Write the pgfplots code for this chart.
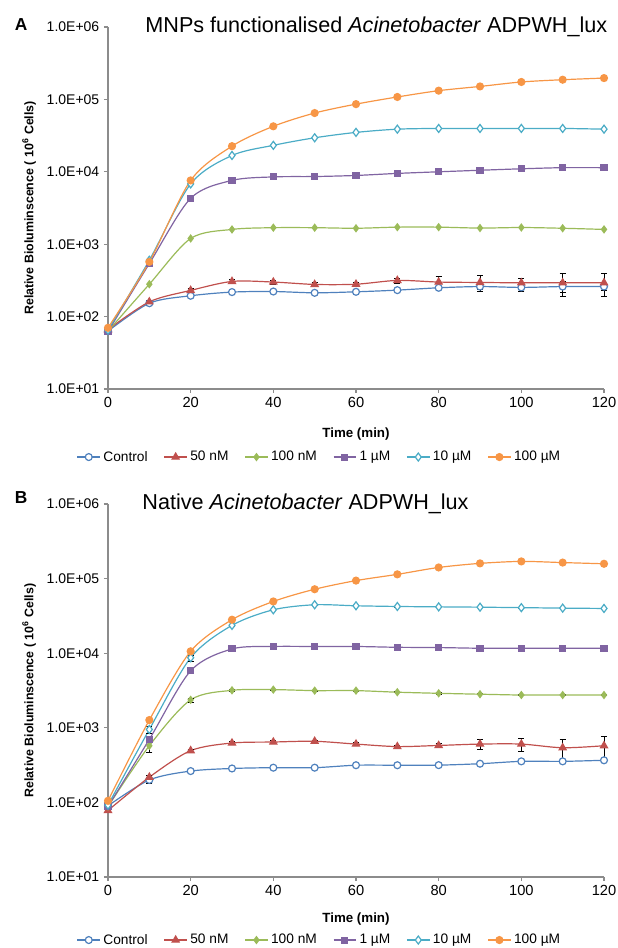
\documentclass[border=0pt]{standalone}
\usepackage{pgfplots}
\pgfplotsset{compat=1.18}
\usepackage{fontspec}
\setmainfont{Liberation Sans}

\definecolor{cBlue}{HTML}{4F81BD}
\definecolor{cRed}{HTML}{C0504D}
\definecolor{cGreen}{HTML}{9BBB59}
\definecolor{cPurple}{HTML}{8064A2}
\definecolor{cCyan}{HTML}{4BACC6}
\definecolor{cOrange}{HTML}{F79646}
\definecolor{axgray}{HTML}{8C8C8C}

\pgfplotsset{
  error bars/error bar style={black, line width=0.45pt},
  error bars/error mark options={black, rotate=90, mark size=2.2pt, line width=0.45pt},
}

\begin{document}
\begin{tikzpicture}
\path[use as bounding box] (-81pt,-419.25pt) rectangle (381.75pt,291.75pt);

% ---- panel A
\begin{axis}[
  scale only axis, width=372pt, height=271.5pt,
  xmin=0, xmax=120, ymode=log, ymin=10, ymax=1e6,
  xtick={0,20,...,120},
  ytick={1e1,1e2,1e3,1e4,1e5,1e6},
  yticklabels={1.0E+01,1.0E+02,1.0E+03,1.0E+04,1.0E+05,1.0E+06},
  yminorticks=false,
  axis x line*=bottom, axis y line*=left,
  axis line style={draw=axgray, line width=0.8pt, -},
  tick align=outside, major tick length=3pt,
  major tick style={draw=axgray, line width=0.8pt},
  /pgf/number format/assume math mode=true,
  xticklabel style={font=\fontsize{11}{13}\selectfont},
  yticklabel style={font=\fontsize{10.5}{12}\selectfont},
  xlabel={Time (min)},
  xlabel style={font=\bfseries\fontsize{10}{12}\selectfont, anchor=center,
    at={(axis description cs:0.5,-0.124)}},
  ylabel={Relative Bioluminscence ( 10\textsuperscript{6} Cells)},
  ylabel style={font=\bfseries\fontsize{9.3}{11}\selectfont, anchor=center,
    at={(axis description cs:-0.159,0.5)}},
  legend columns=6,
  legend style={draw=none, fill=none, anchor=center,
    at={(axis description cs:0.427,-0.188)},
    font=\fontsize{10.3}{12}\selectfont,
    /tikz/every even column/.append style={column sep=10pt}},
  clip=false,
  every axis plot/.append style={line width=0.9pt, smooth},
]
\addplot[color=cBlue, mark=*, mark size=2.6pt, mark options={fill=white, solid},
  error bars/.cd, y dir=both, y explicit] coordinates {
  (0,63) +- (0,5) (10,153) +- (0,8) (20,194) +- (0,10) (30,218) +- (0,10)
  (40,222) +- (0,10) (50,213) +- (0,10) (60,220) +- (0,10) (70,232) +- (0,10)
  (80,250) +- (0,15) (90,260) +- (0,22) (100,253) +- (0,30) (110,260) +- (0,45)
  (120,260) +- (0,30)};
\addplot[color=cRed, mark=triangle*, mark size=3pt, mark options={solid},
  error bars/.cd, y dir=both, y explicit] coordinates {
  (0,66) +- (0,5) (10,160) +- (0,10) (20,230) +- (0,15) (30,306) +- (0,20)
  (40,300) +- (0,20) (50,278) +- (0,15) (60,280) +- (0,15) (70,316) +- (0,25)
  (80,300) +- (0,63) (90,296) +- (0,75) (100,293) +- (0,47) (110,293) +- (0,100)
  (120,293) +- (0,100)};
\addplot[color=cGreen, mark=diamond*, mark size=2.5pt, mark options={solid}] coordinates {
  (0,63) (10,280) (20,1200) (30,1600) (40,1690) (50,1690) (60,1660)
  (70,1720) (80,1720) (90,1670) (100,1700) (110,1660) (120,1600)};
\addplot[color=cPurple, mark=square*, mark size=2.2pt, mark options={solid}] coordinates {
  (0,62) (10,540) (20,4300) (30,7600) (40,8500) (50,8600) (60,8900)
  (70,9500) (80,10000) (90,10500) (100,11000) (110,11400) (120,11400)};
\addplot[color=cCyan, mark=diamond*, mark size=3pt, mark options={fill=white, solid}] coordinates {
  (0,65) (10,600) (20,6800) (30,16800) (40,23200) (50,29500) (60,35000)
  (70,38800) (80,39700) (90,39700) (100,39700) (110,39700) (120,38800)};
\addplot[color=cOrange, mark=*, mark size=2.6pt, mark options={solid}] coordinates {
  (0,70) (10,570) (20,7600) (30,22600) (40,42500) (50,64800) (60,86000)
  (70,108000) (80,132000) (90,151000) (100,174000) (110,187000) (120,197000)};
\legend{Control, 50 nM, 100 nM, 1 µM, 10 µM, 100 µM}
\node[anchor=west, font=\fontsize{16.2}{19}\selectfont] at (axis description cs:0.066,1)
  {MNPs functionalised \textit{Acinetobacter} ADPWH\_lux};
\node[font=\bfseries\fontsize{13}{15}\selectfont] at (axis description cs:-0.175,1.008) {A};
\end{axis}

% ---- panel B
\begin{axis}[
  at={(0pt,-366pt)},
  scale only axis, width=372pt, height=279.75pt,
  xmin=0, xmax=120, ymode=log, ymin=10, ymax=1e6,
  xtick={0,20,...,120},
  ytick={1e1,1e2,1e3,1e4,1e5,1e6},
  yticklabels={1.0E+01,1.0E+02,1.0E+03,1.0E+04,1.0E+05,1.0E+06},
  yminorticks=false,
  axis x line*=bottom, axis y line*=left,
  axis line style={draw=axgray, line width=0.8pt, -},
  tick align=outside, major tick length=3pt,
  major tick style={draw=axgray, line width=0.8pt},
  /pgf/number format/assume math mode=true,
  xticklabel style={font=\fontsize{11}{13}\selectfont},
  yticklabel style={font=\fontsize{10.5}{12}\selectfont},
  xlabel={Time (min)},
  xlabel style={font=\bfseries\fontsize{10}{12}\selectfont, anchor=center,
    at={(axis description cs:0.5,-0.113)}},
  ylabel={Relative Bioluminscence ( 10\textsuperscript{6} Cells)},
  ylabel style={font=\bfseries\fontsize{9.3}{11}\selectfont, anchor=center,
    at={(axis description cs:-0.159,0.5)}},
  legend columns=6,
  legend style={draw=none, fill=none, anchor=center,
    at={(axis description cs:0.427,-0.169)},
    font=\fontsize{10.3}{12}\selectfont,
    /tikz/every even column/.append style={column sep=10pt}},
  clip=false,
  every axis plot/.append style={line width=0.9pt, smooth},
]
\addplot[color=cBlue, mark=*, mark size=2.6pt, mark options={fill=white, solid},
  error bars/.cd, y dir=both, y explicit] coordinates {
  (0,90) +- (0,5) (10,200) +- (0,20) (20,263) +- (0,10) (30,285) +- (0,10)
  (40,292) +- (0,10) (50,292) +- (0,10) (60,315) +- (0,10) (70,315) +- (0,10)
  (80,316) +- (0,12) (90,330) +- (0,12) (100,355) +- (0,15) (110,355) +- (0,15)
  (120,367) +- (0,15)};
\addplot[color=cRed, mark=triangle*, mark size=3pt, mark options={solid},
  error bars/.cd, y dir=both, y explicit] coordinates {
  (0,78) +- (0,5) (10,218) +- (0,15) (20,494) +- (0,20) (30,625) +- (0,25)
  (40,645) +- (0,30) (50,660) +- (0,30) (60,605) +- (0,30) (70,560) +- (0,25)
  (80,580) +- (0,40) (90,605) +- (0,90) (100,605) +- (0,120) (110,540) +- (0,170)
  (120,575) +- (0,200)};
\addplot[color=cGreen, mark=diamond*, mark size=2.5pt, mark options={solid},
  error bars/.cd, y dir=both, y explicit] coordinates {
  (0,88) +- (0,3) (10,575) +- (0,110) (20,2370) +- (0,150) (30,3180) +- (0,60)
  (40,3250) +- (0,50) (50,3150) +- (0,50) (60,3150) +- (0,50) (70,3000) +- (0,50)
  (80,2900) +- (0,50) (90,2820) +- (0,50) (100,2750) +- (0,50) (110,2750) +- (0,50)
  (120,2750) +- (0,50)};
\addplot[color=cPurple, mark=square*, mark size=2.2pt, mark options={solid},
  error bars/.cd, y dir=both, y explicit] coordinates {
  (0,88) +- (0,3) (10,700) +- (0,60) (20,5800) +- (0,500) (30,11400) +- (0,300)
  (40,12300) +- (0,200) (50,12300) +- (0,200) (60,12300) +- (0,200) (70,12000) +- (0,200)
  (80,11900) +- (0,200) (90,11650) +- (0,200) (100,11650) +- (0,200) (110,11650) +- (0,200)
  (120,11650) +- (0,200)};
\addplot[color=cCyan, mark=diamond*, mark size=3pt, mark options={fill=white, solid},
  error bars/.cd, y dir=both, y explicit] coordinates {
  (0,92) +- (0,3) (10,950) +- (0,100) (20,8700) +- (0,800) (30,23600) +- (0,1000)
  (40,38200) +- (0,800) (50,44600) +- (0,800) (60,43200) +- (0,600) (70,42300) +- (0,600)
  (80,41800) +- (0,600) (90,41400) +- (0,600) (100,40800) +- (0,600) (110,40200) +- (0,600)
  (120,39800) +- (0,600)};
\addplot[color=cOrange, mark=*, mark size=2.6pt, mark options={solid}] coordinates {
  (0,105) (10,1270) (20,10600) (30,28100) (40,49400) (50,72000) (60,94000)
  (70,114000) (80,141000) (90,160000) (100,170000) (110,164000) (120,158000)};
\legend{Control, 50 nM, 100 nM, 1 µM, 10 µM, 100 µM}
\node[anchor=west, font=\fontsize{16.2}{19}\selectfont] at (axis description cs:0.06,1)
  {Native \textit{Acinetobacter} ADPWH\_lux};
\node[font=\bfseries\fontsize{13}{15}\selectfont] at (axis description cs:-0.175,1.016) {B};
\end{axis}
\end{tikzpicture}
\end{document}
